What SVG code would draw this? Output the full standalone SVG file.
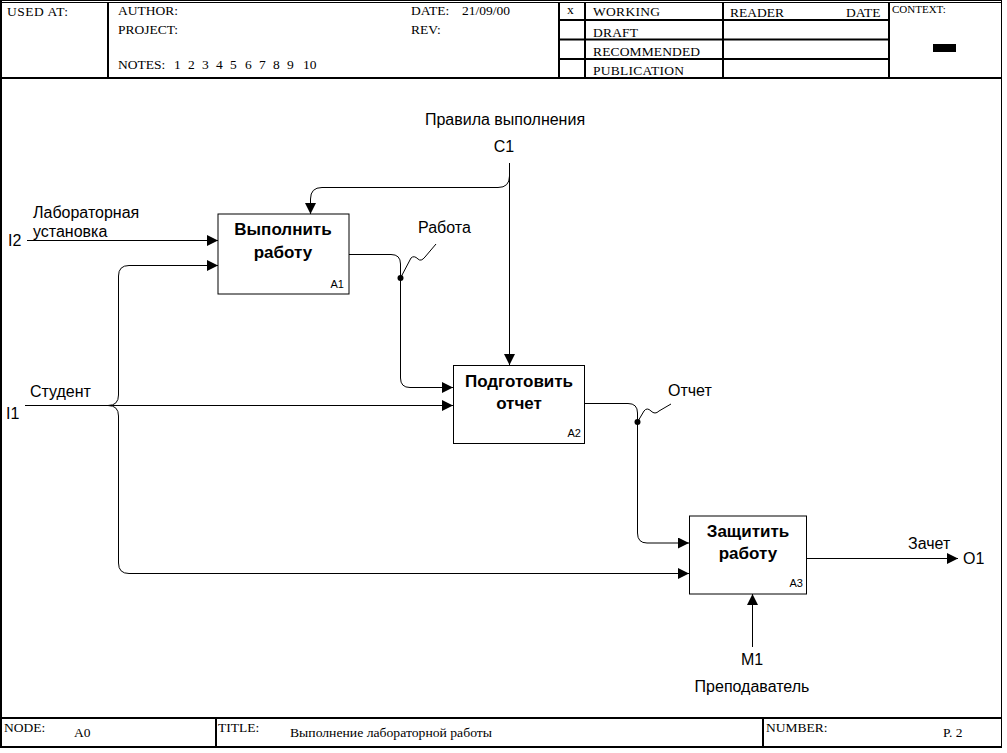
<svg xmlns="http://www.w3.org/2000/svg" width="1007" height="753" viewBox="0 0 1007 753">
<style>
.frame{fill:none;stroke:#000;stroke-width:1}
.thick{fill:none;stroke:#000;stroke-width:2}
.hdr{font-family:"Liberation Serif","Times New Roman",serif;font-size:13.5px;fill:#000}
.sm{font-family:"Liberation Serif","Times New Roman",serif;font-size:11px;fill:#000}
.lbl{font-family:"Liberation Sans",Arial,sans-serif;font-size:16px;fill:#000}
.box{fill:#fff;stroke:#000;stroke-width:1}
.btxt{font-family:"Liberation Sans",Arial,sans-serif;font-size:17px;font-weight:bold;fill:#000;text-anchor:middle}
.num{font-family:"Liberation Sans",Arial,sans-serif;font-size:11px;fill:#000;text-anchor:end}
.con{fill:none;stroke:#000;stroke-width:1}
</style>
<defs>
<marker id="arr" markerUnits="userSpaceOnUse" markerWidth="12" markerHeight="12" refX="11" refY="5.5" orient="auto">
<path d="M0,0 L11,5.5 L0,11 z" fill="#000"/>
</marker>
</defs>
<rect width="1007" height="753" fill="#fff"/>
<g id="frame">
<line class="frame" x1="0" y1="0.5" x2="1002" y2="0.5"/>
<line class="frame" x1="0" y1="2.5" x2="1002" y2="2.5"/>
<line class="thick" x1="1" y1="0" x2="1" y2="748"/>
<line class="frame" x1="1001.5" y1="0" x2="1001.5" y2="748"/>
<line class="thick" x1="0" y1="78" x2="1002" y2="78"/>
<line class="thick" x1="108" y1="2" x2="108" y2="78"/>
<line class="thick" x1="559" y1="2" x2="559" y2="78"/>
<line class="thick" x1="585" y1="2" x2="585" y2="78"/>
<line class="thick" x1="723" y1="2" x2="723" y2="78"/>
<line class="thick" x1="889" y1="2" x2="889" y2="78"/>
<line class="thick" x1="559" y1="20" x2="889" y2="20"/>
<line class="thick" x1="559" y1="39.5" x2="889" y2="39.5"/>
<line class="thick" x1="559" y1="59" x2="889" y2="59"/>
<rect x="933" y="44" width="23" height="8" fill="#000"/>
<text class="hdr" x="7" y="16" textLength="61" lengthAdjust="spacing">USED AT:</text>
<text class="hdr" x="118" y="15">AUTHOR:</text>
<text class="hdr" x="118" y="34">PROJECT:</text>
<text class="hdr" x="118" y="69">NOTES:<tspan x="174">1</tspan><tspan x="188">2</tspan><tspan x="202">3</tspan><tspan x="216">4</tspan><tspan x="230">5</tspan><tspan x="245">6</tspan><tspan x="259">7</tspan><tspan x="273">8</tspan><tspan x="287">9</tspan><tspan x="303">10</tspan></text>
<text class="hdr" x="411" y="15">DATE:</text>
<text class="hdr" x="462" y="15">21/09/00</text>
<text class="hdr" x="411" y="34">REV:</text>
<text class="hdr" x="567" y="14">x</text>
<text class="hdr" x="593" y="16" textLength="67" lengthAdjust="spacing">WORKING</text>
<text class="hdr" x="593" y="37" textLength="45" lengthAdjust="spacing">DRAFT</text>
<text class="hdr" x="593" y="56" textLength="107" lengthAdjust="spacing">RECOMMENDED</text>
<text class="hdr" x="593" y="75" textLength="91" lengthAdjust="spacing">PUBLICATION</text>
<text class="hdr" x="730" y="17">READER</text>
<text class="hdr" x="846" y="17">DATE</text>
<text class="sm" x="892" y="13">CONTEXT:</text>
<line class="thick" x1="0" y1="718" x2="1002" y2="718"/>
<line class="thick" x1="0" y1="747" x2="1002" y2="747"/>
<line class="thick" x1="216" y1="718" x2="216" y2="747"/>
<line class="thick" x1="763" y1="718" x2="763" y2="747"/>
<text class="hdr" x="4" y="732">NODE:</text>
<text class="hdr" x="74" y="737">A0</text>
<text class="hdr" x="218" y="732">TITLE:</text>
<text class="hdr" x="290" y="737" textLength="202" lengthAdjust="spacingAndGlyphs">Выполнение лабораторной работы</text>
<text class="hdr" x="766" y="732">NUMBER:</text>
<text class="hdr" x="943" y="737">P.  2</text>
</g>
<g id="connectors">
<path class="con" d="M509.5,163 V365" marker-end="url(#arr)"/>
<path class="con" d="M509.5,176 Q509.5,187.5 498,187.5 H322 Q310.5,187.5 310.5,199 V214" marker-end="url(#arr)"/>
<path class="con" d="M27,240.5 H218" marker-end="url(#arr)"/>
<path class="con" d="M25,405.5 H453" marker-end="url(#arr)"/>
<path class="con" d="M108,405.5 Q118.5,405.5 118.5,395 V276 Q118.5,265.5 129,265.5 H218" marker-end="url(#arr)"/>
<path class="con" d="M108,405.5 Q118.5,405.5 118.5,416 V563 Q118.5,573.5 129,573.5 H689" marker-end="url(#arr)"/>
<path class="con" d="M349,254.5 H391 Q400.5,254.5 400.5,264 V378 Q400.5,387.5 410,387.5 H453" marker-end="url(#arr)"/>
<circle cx="400.5" cy="278" r="3" fill="#000"/>
<path class="con" d="M400.5,278 L411,258 Q414,255 418,259 Q421,262 425,257 L436,244"/>
<path class="con" d="M585,403.5 H628 Q637.5,403.5 637.5,413 V533 Q637.5,543 647,543 H689" marker-end="url(#arr)"/>
<circle cx="637.5" cy="422" r="3" fill="#000"/>
<path class="con" d="M637.5,422 L644,411 Q647,407 651,411 Q655,415 659,411 L671,404"/>
<path class="con" d="M807,558.5 H958" marker-end="url(#arr)"/>
<path class="con" d="M752.5,647 V594" marker-end="url(#arr)"/>
<text class="lbl" x="505" y="125" text-anchor="middle">Правила выполнения</text>
<text class="lbl" x="504" y="152" text-anchor="middle">C1</text>
<text class="lbl" x="33" y="218">Лабораторная</text>
<text class="lbl" x="33" y="237">установка</text>
<text class="lbl" x="8" y="246">I2</text>
<text class="lbl" x="30" y="397">Студент</text>
<text class="lbl" x="6" y="419">I1</text>
<text class="lbl" x="418" y="233">Работа</text>
<text class="lbl" x="668" y="396">Отчет</text>
<text class="lbl" x="908" y="549">Зачет</text>
<text class="lbl" x="963" y="564">O1</text>
<text class="lbl" x="752" y="665" text-anchor="middle">M1</text>
<text class="lbl" x="752" y="692" text-anchor="middle">Преподаватель</text>
</g>
<g id="A1">
<rect class="box" x="218" y="214" width="131" height="80"/>
<text class="btxt" x="283" y="235">Выполнить</text>
<text class="btxt" x="283" y="258">работу</text>
<text class="num" x="344" y="288">A1</text>
</g>
<g id="A2">
<rect class="box" x="453.5" y="365.5" width="131" height="78"/>
<text class="btxt" x="519" y="387">Подготовить</text>
<text class="btxt" x="519" y="409">отчет</text>
<text class="num" x="581" y="437">A2</text>
</g>
<g id="A3">
<rect class="box" x="689.5" y="516" width="117" height="78"/>
<text class="btxt" x="748" y="537">Защитить</text>
<text class="btxt" x="748" y="559">работу</text>
<text class="num" x="803" y="587">A3</text>
</g>
</svg>
